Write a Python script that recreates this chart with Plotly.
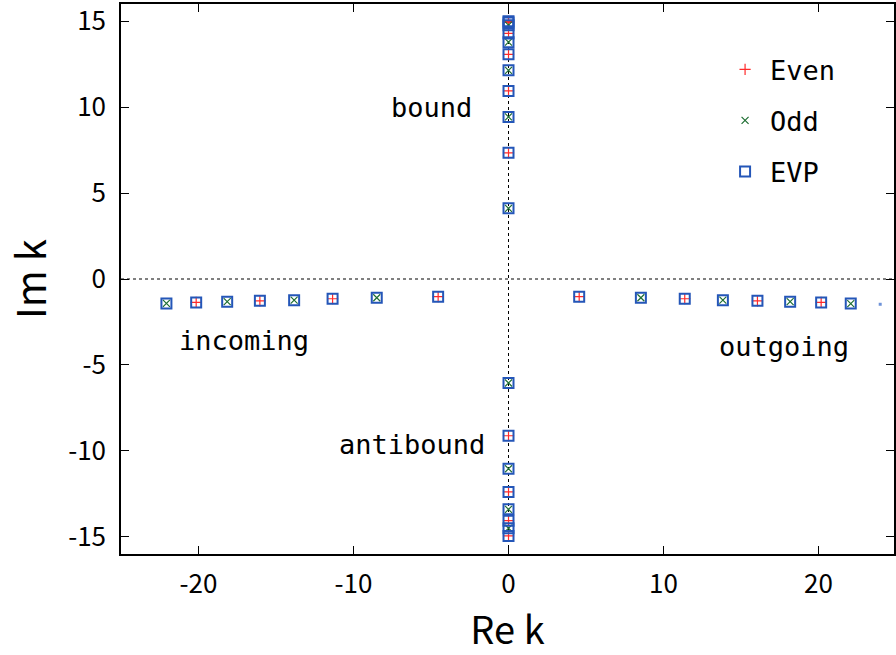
import plotly.graph_objects as go

# ---- data ----
even_re = [0, 0, 0, 0, 0, 0,
           0, 0, 0, 0,
           -20.15, -16.04, -11.35, -4.54,
           4.56, 11.37, 16.06, 20.17]
even_im = [7.34, 10.94, 13.07, 14.29, 14.93, 14.99,
           -9.12, -12.39, -14.06, -14.95,
           -1.36, -1.27, -1.15, -1.03,
           -1.03, -1.15, -1.27, -1.36]

odd_re = [0, 0, 0, 0, 0,
          0, 0, 0, 0,
          -22.07, -18.15, -13.83, -8.50,
          8.54, 13.83, 18.17, 22.08]
odd_im = [4.11, 9.43, 12.14, 13.78, 14.77,
          -6.05, -11.04, -13.40, -14.50,
          -1.42, -1.32, -1.23, -1.09,
          -1.09, -1.23, -1.32, -1.43]

evp_re = even_re + odd_re
evp_im = even_im + odd_im

extra_re = [23.98]
extra_im = [-1.47]

labels = ["bound", "incoming", "outgoing", "antibound"]
label_x = [-5.0, -17.05, 17.8, -6.25]
label_y = [10.0, -3.6, -3.95, -9.65]

x_ticks = [-20, -10, 0, 10, 20]
x_ticktext = ["-20", "-10", "0", "10", "20"]
y_ticks = [-15, -10, -5, 0, 5, 10, 15]
y_ticktext = ["-15", "-10", "-5", "0", "5", "10", "15"]

MONO = "DejaVu Sans Mono"
SANS = "Noto Sans CJK JP"

fig = go.Figure()
fig.add_trace(go.Scatter(
    x=even_re, y=even_im, mode="markers", name="Even", legendgroup="a",
    marker=dict(symbol="cross-thin", size=8, line=dict(color="#ff2a2a", width=1.2), color="#ff2a2a")))
fig.add_trace(go.Scatter(
    x=odd_re, y=odd_im, mode="markers", name="Odd", legendgroup="b",
    marker=dict(symbol="x-thin", size=7, line=dict(color="#1e6e32", width=1.2), color="#1e6e32")))
fig.add_trace(go.Scatter(
    x=evp_re, y=evp_im, mode="markers", name="EVP", legendgroup="c",
    marker=dict(symbol="square-open", size=10, line=dict(color="#2456b8", width=2), color="#2456b8")))
fig.add_trace(go.Scatter(
    x=extra_re, y=extra_im, mode="markers", showlegend=False,
    marker=dict(symbol="square", size=3, color="#6f93d8")))

for t, xx, yy in zip(labels, label_x, label_y):
    fig.add_annotation(x=xx, y=yy, text=t, showarrow=False,
                       font=dict(family=MONO, size=27, color="black"))

# dotted zero axes
fig.add_shape(type="line", xref="paper", yref="y", x0=0, x1=1, y0=0, y1=0,
              line=dict(color="black", width=1, dash="dot"), layer="below")
fig.add_shape(type="line", xref="x", yref="paper", x0=0, x1=0, y0=0, y1=1,
              line=dict(color="black", width=1, dash="dot"), layer="below")

axis_common = dict(
    showgrid=False, zeroline=False, showline=True, linecolor="black", linewidth=1.5,
    mirror="allticks", ticks="inside", ticklen=8, tickwidth=1, tickcolor="black",
    tickfont=dict(family=SANS, size=26, color="black"),
    ticklabeloverflow="allow",
)

fig.update_layout(
    width=896, height=655,
    margin=dict(l=121, r=0, t=3, b=101),
    paper_bgcolor="white", plot_bgcolor="white",
    showlegend=True,
    legend=dict(x=0.775, y=0.925, xanchor="left", yanchor="top",
                bgcolor="rgba(0,0,0,0)", tracegroupgap=13, itemwidth=40,
                font=dict(family=MONO, size=27, color="black")),
    xaxis=dict(range=[-25, 24.87], tickvals=x_ticks, ticktext=x_ticktext, **axis_common,
               ticklabelstandoff=6,
               title=dict(text="Re k", font=dict(family=SANS, size=38, color="black"), standoff=26)),
    yaxis=dict(range=[-16, 16], tickvals=y_ticks, ticktext=y_ticktext, **axis_common,
               ticklabelstandoff=8,
               title=dict(text="Im k", font=dict(family=SANS, size=40, color="black"), standoff=10)),
)

fig.write_html("out.html")
